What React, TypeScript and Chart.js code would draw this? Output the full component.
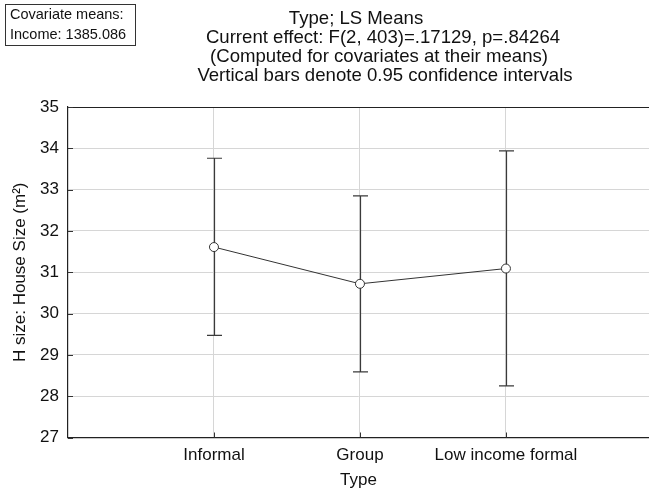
import React, { useEffect, useRef } from "react";
import { Chart, registerables } from "chart.js";

Chart.register(...registerables);

const categories = ["Informal", "Group", "Low income formal"];
const xPositions = [1, 2, 3];
const means = [31.61, 30.72, 31.09];
const lowerCI = [29.47, 28.59, 28.25];
const upperCI = [33.76, 32.85, 33.94];
const yMin = 27;
const yMax = 35;

const titleLines = [
  "Type; LS Means",
  "Current effect: F(2, 403)=.17129, p=.84264",
  "(Computed for covariates at their means)",
  "Vertical bars denote 0.95 confidence intervals",
];
const covariateLines = ["Covariate means:", "Income: 1385.086"];

const FONT = "'Liberation Sans', Arial, sans-serif";

const customPlugin = {
  id: "customDecor",
  beforeDatasetsDraw(chart: any) {
    const ctx = chart.ctx;
    const xs = chart.scales.x;
    const ys = chart.scales.y;
    const area = chart.chartArea;
    ctx.save();
    // top border
    ctx.strokeStyle = "#222";
    ctx.lineWidth = 1.2;
    ctx.beginPath();
    ctx.moveTo(area.left, Math.round(area.top) + 0.5);
    ctx.lineTo(area.right, Math.round(area.top) + 0.5);
    ctx.stroke();
    // inner tick marks
    ctx.lineWidth = 1;
    ctx.strokeStyle = "#333";
    ys.ticks.forEach((t: any) => {
      const py = Math.round(ys.getPixelForValue(t.value)) + 0.5;
      ctx.beginPath();
      ctx.moveTo(area.left, py);
      ctx.lineTo(area.left + 5, py);
      ctx.stroke();
    });
    xs.ticks.forEach((t: any) => {
      const px = Math.round(xs.getPixelForValue(t.value)) + 0.5;
      ctx.beginPath();
      ctx.moveTo(px, area.bottom);
      ctx.lineTo(px, area.bottom - 5);
      ctx.stroke();
    });
    // error bars
    ctx.strokeStyle = "#3a3a3a";
    ctx.lineWidth = 1.2;
    const cap = 7.5;
    xPositions.forEach((xv, i) => {
      const px = Math.round(xs.getPixelForValue(xv)) + 0.5;
      const pLo = ys.getPixelForValue(lowerCI[i]);
      const pHi = ys.getPixelForValue(upperCI[i]);
      ctx.beginPath();
      ctx.moveTo(px, pLo);
      ctx.lineTo(px, pHi);
      ctx.moveTo(px - cap, pLo);
      ctx.lineTo(px + cap, pLo);
      ctx.moveTo(px - cap, pHi);
      ctx.lineTo(px + cap, pHi);
      ctx.stroke();
    });
    ctx.restore();
  },
  afterDraw(chart: any) {
    const ctx = chart.ctx;
    ctx.save();
    ctx.fillStyle = "#111";
    ctx.textBaseline = "middle";
    ctx.textAlign = "center";
    ctx.font = `18.6px ${FONT}`;
    const centers = [356, 383, 379, 385];
    const ys = [18.5, 38, 57, 76];
    titleLines.forEach((line, i) => {
      ctx.fillText(line, centers[i], ys[i]);
    });
    // covariate box
    ctx.fillStyle = "#fff";
    ctx.fillRect(5.5, 4.5, 130, 41);
    ctx.strokeStyle = "#333";
    ctx.lineWidth = 1;
    ctx.strokeRect(5.5, 4.5, 130, 41);
    ctx.fillStyle = "#111";
    ctx.textAlign = "left";
    ctx.font = `14.5px ${FONT}`;
    ctx.fillText(covariateLines[0], 10, 15);
    ctx.fillText(covariateLines[1], 10, 35);
    ctx.restore();
  },
};

export default function App() {
  const canvasRef = useRef<HTMLCanvasElement | null>(null);

  useEffect(() => {
    document.body.style.margin = "0";
    const canvas = canvasRef.current;
    if (!canvas) return;
    const chart = new Chart(canvas, {
      type: "line",
      data: {
        datasets: [
          {
            data: xPositions.map((x, i) => ({ x, y: means[i] })),
            borderColor: "#333",
            borderWidth: 1,
            pointRadius: 4.5,
            pointBackgroundColor: "#fff",
            pointBorderColor: "#333",
            pointBorderWidth: 1,
            tension: 0,
            fill: false,
          },
        ],
      },
      options: {
        responsive: false,
        animation: false,
        devicePixelRatio: 1,
        layout: {
          autoPadding: false,
          padding: { top: 107, left: 0, right: 0, bottom: 0 },
        },
        plugins: {
          legend: { display: false },
          tooltip: { enabled: false },
          title: { display: false },
        },
        scales: {
          x: {
            type: "linear",
            min: 0,
            max: 3.98,
            afterBuildTicks: (s: any) => {
              s.ticks = xPositions.map((v) => ({ value: v }));
            },
            afterFit: (s: any) => {
              s.height = 51.5;
              s.paddingLeft = 0;
              s.paddingRight = 0;
            },
            ticks: {
              callback: (v: any) => {
                const idx = xPositions.indexOf(Number(v));
                return idx >= 0 ? categories[idx] : "";
              },
              font: { family: FONT, size: 17 },
              color: "#111",
              padding: 8,
              maxRotation: 0,
              autoSkip: false,
            },
            grid: { color: "#d6d6d6", lineWidth: 1, drawTicks: false },
            border: { display: true, color: "#222", width: 1.2 },
            title: {
              display: true,
              text: "Type",
              font: { family: FONT, size: 17, lineHeight: 1 },
              color: "#111",
              padding: { top: 0, bottom: 0 },
            },
          },
          y: {
            min: yMin,
            max: yMax,
            afterFit: (s: any) => {
              s.width = 68;
              s.paddingTop = 0;
              s.paddingBottom = 0;
            },
            ticks: {
              stepSize: 1,
              font: { family: FONT, size: 17 },
              color: "#111",
              padding: 9,
            },
            grid: { color: "#d6d6d6", lineWidth: 1, drawTicks: false },
            border: { display: true, color: "#222", width: 1.2 },
            title: {
              display: true,
              text: "H size: House Size (m²)",
              font: { family: FONT, size: 17, lineHeight: 1 },
              color: "#111",
              padding: { top: 12, bottom: 0 },
            },
          },
        },
      },
      plugins: [customPlugin],
    } as any);
    return () => chart.destroy();
  }, []);

  return (
    <canvas
      ref={canvasRef}
      width={649}
      height={489}
      style={{ display: "block", width: 649, height: 489 }}
    />
  );
}
